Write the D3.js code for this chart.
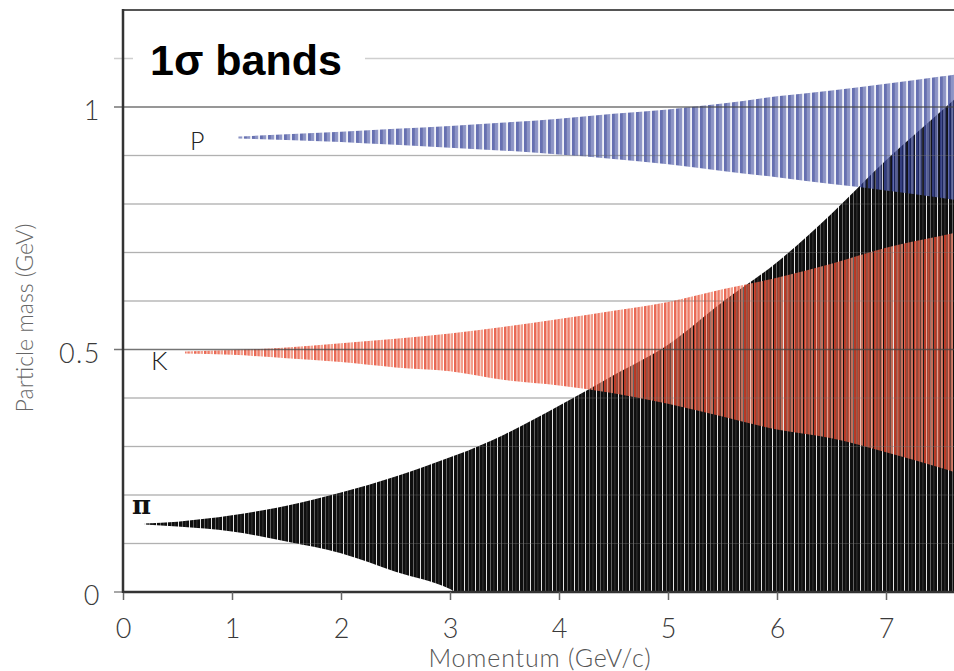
<!DOCTYPE html>
<html>
<head>
<meta charset="utf-8">
<script src="https://cdn.jsdelivr.net/npm/d3@7"></script>
<style>
  body { margin: 0; background: #fff; }
  svg { display: block; }
</style>
</head>
<body>
<svg id="chart" width="954" height="671"></svg>
<script>
// Pion 1-sigma mass band vs momentum (GeV/c -> GeV)
const piMomentum = [0.2, 0.5, 1.0, 1.5, 2.0, 2.5, 3.0, 3.05, 3.5, 4.0, 4.5, 5.0, 5.5, 6.0, 6.5, 7.0, 7.5, 7.7];
const piHigh     = [0.141, 0.145, 0.158, 0.178, 0.205, 0.238, 0.278, 0.282, 0.325, 0.384, 0.447, 0.51, 0.598, 0.68, 0.78, 0.89, 0.99, 1.03];
const piLow      = [0.139, 0.135, 0.125, 0.104, 0.080, 0.042, 0.006, 0.0, 0.0, 0.0, 0.0, 0.0, 0.0, 0.0, 0.0, 0.0, 0.0, 0.0];

// Kaon band
const kMomentum = [0.57, 1.0, 1.5, 2.0, 2.5, 3.0, 3.5, 4.0, 4.5, 5.0, 5.5, 6.0, 6.5, 7.0, 7.5, 7.7];
const kHigh     = [0.496, 0.499, 0.504, 0.513, 0.522, 0.533, 0.547, 0.563, 0.580, 0.598, 0.624, 0.648, 0.677, 0.710, 0.734, 0.744];
const kLow      = [0.492, 0.489, 0.482, 0.474, 0.463, 0.455, 0.437, 0.426, 0.410, 0.388, 0.362, 0.335, 0.317, 0.288, 0.256, 0.242];

// Proton band
const pMomentum = [1.06, 1.5, 2.0, 2.5, 3.0, 3.5, 4.0, 4.5, 5.0, 5.5, 6.0, 6.5, 7.0, 7.5, 7.7];
const pHigh     = [0.939, 0.944, 0.949, 0.955, 0.961, 0.968, 0.976, 0.986, 0.995, 1.007, 1.022, 1.034, 1.048, 1.063, 1.069];
const pLow      = [0.935, 0.932, 0.928, 0.922, 0.916, 0.910, 0.902, 0.893, 0.882, 0.868, 0.855, 0.841, 0.828, 0.813, 0.806];

const xTickValues = [0, 1, 2, 3, 4, 5, 6, 7];
const xTickLabels = ["0", "1", "2", "3", "4", "5", "6", "7"];
const yTickValues = [0, 0.5, 1];
const yTickLabels = ["0", "0.5", "1"];
const gridValues  = [0.1, 0.2, 0.3, 0.4, 0.6, 0.7, 0.8, 0.9, 1.1];

const svg = d3.select("#chart");
const W = 954, H = 671;
const plotLeft = 123, plotTop = 10, plotBottom = 592;
const labelFont = "Lato, 'Open Sans', sans-serif";

const x = d3.scaleLinear().domain([0, 8]).range([plotLeft, plotLeft + 8 * 109]);
const y = d3.scaleLinear().domain([0, 1.2]).range([plotBottom, plotTop]);

const defs = svg.append("defs");
defs.append("clipPath").attr("id", "plot-clip")
  .append("rect").attr("x", plotLeft).attr("y", plotTop)
  .attr("width", W - plotLeft).attr("height", plotBottom - plotTop);

// Vertical striped fills: [offset, width, colour] inside a repeating tile
function stripePattern(id, tileWidth, stripes) {
  const pat = defs.append("pattern").attr("id", id)
    .attr("patternUnits", "userSpaceOnUse")
    .attr("x", plotLeft).attr("y", 0)
    .attr("width", tileWidth).attr("height", H);
  stripes.forEach(([o, w, c]) => {
    pat.append("rect").attr("x", o).attr("y", 0).attr("width", w).attr("height", H).attr("fill", c);
  });
}

stripePattern("pi-fill", 11, [
  [0, 11, "#0e0e0e"], [0, 1, "#e4e4e4"], [4, 0.8, "#777"], [7.5, 0.8, "#3c3c3c"]
]);
stripePattern("k-fill", 10, [
  [0, 1, "rgba(255,255,255,0)"], [1, 2.6, "#e4432a"], [3.6, 0.8, "#f4a896"],
  [4.4, 2.4, "#ea5b40"], [6.8, 0.7, "rgba(255,255,255,0)"], [7.5, 2.5, "#ef8770"]
]);
stripePattern("p-fill", 8, [
  [0, 0.9, "rgba(255,255,255,0)"], [0.9, 2.3, "#3b489c"], [3.2, 0.8, "#222f86"],
  [4.0, 2.4, "#6b76b6"], [6.4, 0.8, "#3c499e"], [7.2, 0.8, "rgba(255,255,255,0)"]
]);

// Light horizontal grid
svg.append("g").selectAll("line").data(gridValues).join("line")
  .attr("x1", d => d === 1.1 ? 114 : plotLeft).attr("x2", W)
  .attr("y1", d => y(d)).attr("y2", d => y(d))
  .attr("stroke", "#cfcfcf").attr("stroke-width", 1.5);

const plot = svg.append("g").attr("clip-path", "url(#plot-clip)");

const area = d3.area()
  .x(d => x(d.p)).y0(d => y(d.lo)).y1(d => y(d.hi))
  .curve(d3.curveMonotoneX);

function bandData(ps, his, los) {
  return ps.map((p, i) => ({ p, hi: his[i], lo: los[i] }));
}

plot.append("path").datum(bandData(piMomentum, piHigh, piLow))
  .attr("d", area).attr("fill", "url(#pi-fill)");
plot.append("path").datum(bandData(kMomentum, kHigh, kLow))
  .attr("d", area).attr("fill", "url(#k-fill)").attr("opacity", 0.8);
plot.append("path").datum(bandData(pMomentum, pHigh, pLow))
  .attr("d", area).attr("fill", "url(#p-fill)").attr("opacity", 0.78);

// Grid lines drawn faintly over the bands
plot.append("g").selectAll("line").data(gridValues.filter(d => d < 1.1)).join("line")
  .attr("x1", plotLeft).attr("x2", W)
  .attr("y1", d => y(d)).attr("y2", d => y(d))
  .attr("stroke", "rgba(120,120,120,0.35)").attr("stroke-width", 1.2);

// Major lines at the labelled masses
svg.append("g").selectAll("line").data(yTickValues.filter(d => d > 0)).join("line")
  .attr("x1", 114).attr("x2", W)
  .attr("y1", d => y(d)).attr("y2", d => y(d))
  .attr("stroke", "rgba(70,70,70,0.75)").attr("stroke-width", 1.3);

// Frame and axes
svg.append("line").attr("x1", plotLeft).attr("x2", W).attr("y1", plotTop).attr("y2", plotTop)
  .attr("stroke", "#555").attr("stroke-width", 2);
svg.append("line").attr("x1", 114).attr("x2", plotLeft).attr("y1", plotBottom).attr("y2", plotBottom)
  .attr("stroke", "#777").attr("stroke-width", 1.3);

const xAxis = svg.append("g").attr("transform", `translate(0,${plotBottom})`)
  .call(d3.axisBottom(x).tickValues(xTickValues).tickSize(8)
    .tickFormat((d, i) => xTickLabels[i]));
xAxis.select(".domain").attr("d", `M${plotLeft},0H${W}`).attr("stroke", "#333").attr("stroke-width", 2.5);
xAxis.selectAll(".tick line").attr("stroke", "#666").attr("stroke-width", 1.5);
xAxis.selectAll(".tick text")
  .attr("y", 37).attr("dy", "0.32em")
  .style("font-family", labelFont).style("font-weight", 300)
  .style("font-size", "27px").attr("fill", "#3a3a3a");

svg.append("line").attr("x1", plotLeft).attr("x2", plotLeft).attr("y1", plotTop - 1).attr("y2", plotBottom + 1)
  .attr("stroke", "#333").attr("stroke-width", 2.5);

svg.append("g").selectAll("text").data(yTickValues).join("text")
  .attr("x", 101).attr("y", d => y(d) + 4).attr("dy", "0.35em")
  .attr("text-anchor", "end")
  .style("font-family", labelFont).style("font-weight", 300)
  .style("font-size", "27px").style("letter-spacing", "1.5px").attr("fill", "#3a3a3a")
  .text((d, i) => yTickLabels[i]);

// Axis titles
svg.append("text").attr("x", 540).attr("y", 667).attr("text-anchor", "middle")
  .style("font-family", labelFont).style("font-weight", 300)
  .style("font-size", "25px").style("letter-spacing", "0.8px").attr("fill", "#555")
  .text("Momentum (GeV/c)");
svg.append("text").attr("transform", "translate(33,318) rotate(-90)").attr("text-anchor", "middle")
  .style("font-family", labelFont).style("font-weight", 300)
  .style("font-size", "23px").attr("fill", "#666")
  .text("Particle mass (GeV)");

// Particle labels
svg.append("text").attr("x", 190).attr("y", 150)
  .style("font-family", labelFont).style("font-weight", 300)
  .style("font-size", "25px").attr("fill", "#222").text("P");
svg.append("text").attr("x", 151).attr("y", 370)
  .style("font-family", labelFont).style("font-weight", 300)
  .style("font-size", "26px").attr("fill", "#222").text("K");
svg.append("text").attr("x", 132).attr("y", 514)
  .style("font-family", "'DejaVu Serif', serif").style("font-weight", "bold")
  .style("font-size", "26px").attr("fill", "#111").text("π");

// Title on a white patch
svg.append("rect").attr("x", 133).attr("y", 28).attr("width", 232).attr("height", 60).attr("fill", "#fff");
svg.append("text").attr("x", 150).attr("y", 75)
  .style("font-family", "'Liberation Sans', Arial, sans-serif").style("font-weight", "bold")
  .style("font-size", "43px").attr("fill", "#000").text("1σ bands");
</script>
</body>
</html>
